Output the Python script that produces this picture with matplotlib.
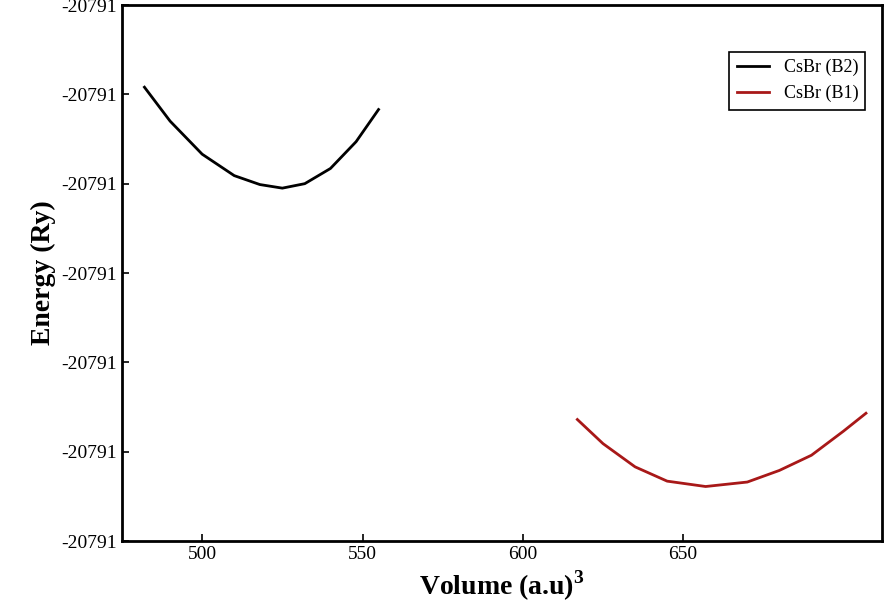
import matplotlib
matplotlib.use("Agg")
import matplotlib.pyplot as plt
from matplotlib.ticker import FuncFormatter

plt.rcParams['font.family'] = ['Liberation Serif', 'DejaVu Serif']
plt.rcParams['mathtext.fontset'] = 'custom'
plt.rcParams['mathtext.rm'] = 'Liberation Serif'
plt.rcParams['mathtext.bf'] = 'Liberation Serif:bold'

b2_volume = [482, 490, 500, 510, 518, 525, 532, 540, 548, 555]
b2_energy = [-20790.942, -20790.980, -20791.017, -20791.041, -20791.051, -20791.055,
             -20791.050, -20791.033, -20791.003, -20790.967]
b1_volume = [617, 625, 635, 645, 657, 670, 680, 690, 700, 707]
b1_energy = [-20791.314, -20791.341, -20791.367, -20791.383, -20791.389, -20791.384,
             -20791.371, -20791.354, -20791.327, -20791.307]
y_ticks = [-20791.45, -20791.35, -20791.25, -20791.15, -20791.05, -20790.95, -20790.85]
x_ticks = [500, 550, 600, 650]

fig = plt.figure(figsize=(8.89, 6.16), dpi=100)
ax = fig.add_axes([122/889, 75/616, 760/889, 536/616])
ax.plot(b2_volume, b2_energy, color='black', lw=2, label='CsBr (B2)')
ax.plot(b1_volume, b1_energy, color='#a81818', lw=2, label='CsBr (B1)')
ax.set_xlim(475, 712)
ax.set_ylim(-20791.45, -20790.85)
ax.set_xticks(x_ticks)
ax.set_yticks(y_ticks)
ax.yaxis.set_major_formatter(FuncFormatter(lambda v, p: '-20791'))
ax.tick_params(labelsize=14, direction='in', length=5, width=1.2)
for s in ax.spines.values():
    s.set_linewidth(2)
ax.set_xlabel('Volume (a.u)$^{\\mathbf{3}}$', fontsize=20, fontweight='bold')
ax.set_ylabel('Energy (Ry)', fontsize=20, fontweight='bold')
leg = ax.legend(loc='upper right', bbox_to_anchor=(0.99, 0.93), fontsize=13, fancybox=False,
                edgecolor='black', framealpha=1, handlelength=1.8)
leg.get_frame().set_linewidth(1.2)
fig.savefig('out.png', dpi=100)
